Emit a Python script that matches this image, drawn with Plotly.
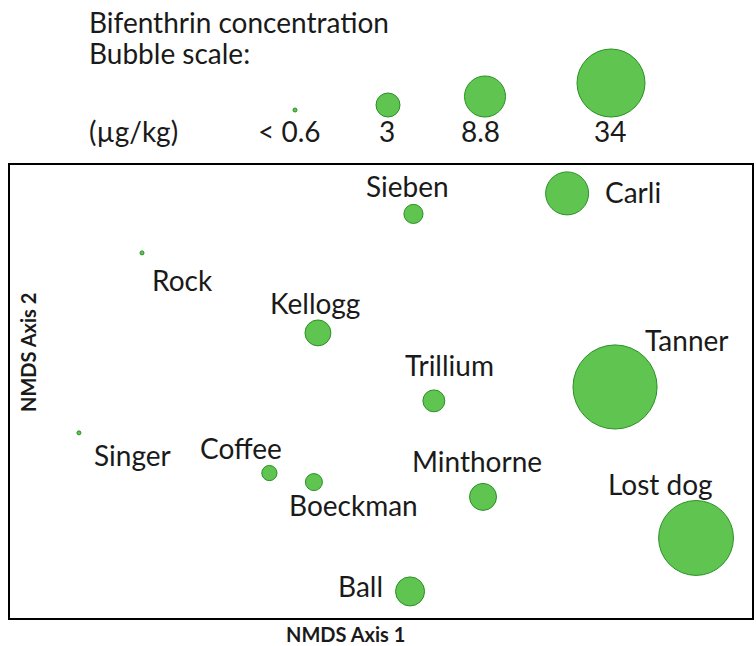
import numpy as np
import plotly.graph_objects as go

# ---------------- data ----------------
sites = ["Sieben", "Carli", "Rock", "Kellogg", "Tanner", "Trillium", "Singer",
         "Coffee", "Boeckman", "Minthorne", "Lost dog", "Ball"]
nmds_axis1 = [0.105, 0.602, -0.773, -0.204, 0.757, 0.171, -0.977,
              -0.361, -0.217, 0.330, 1.019, 0.094]
nmds_axis2 = [0.588, 0.656, 0.459, 0.194, 0.015, -0.031, -0.137,
              -0.270, -0.300, -0.349, -0.485, -0.662]
# bifenthrin concentration, µg/kg (nan = below detection, < 0.6)
bifenthrin = [1.9, 10.0, np.nan, 3.5, 60.0, 2.5, np.nan,
              1.2, 1.5, 3.8, 44.0, 4.4]

scale_values = [0.6, 3, 8.8, 34]
scale_labels = ["< 0.6", "3", "8.8", "34"]

# ---------------- bubble size scale ----------------
REF_V = np.log(np.array([3.0, 8.8, 34.0]))
REF_D = np.log(np.array([24.0, 41.0, 68.0]))
ND_D = 4.0


def diam(v):
    if v is None or np.isnan(v) or v <= 0.6:
        return ND_D
    x = np.log(v)
    i = 0 if x <= REF_V[1] else 1
    slope = (REF_D[i + 1] - REF_D[i]) / (REF_V[i + 1] - REF_V[i])
    return float(np.exp(REF_D[i] + slope * (x - REF_V[i])))


FILL = "rgb(96,196,80)"
EDGE = "rgb(40,145,36)"
FONT = "Lato"
TXT = "#1a1a1a"
LSIZE = 28

W, H = 756, 646
ML, MR, MT, MB = 10, 4, 0, 28
PH = H - MT - MB           # plot-area height (px)
BOX_TOP = 165              # px of main box top

fig = go.Figure()

# main bubbles
fig.add_trace(go.Scatter(
    x=nmds_axis1, y=nmds_axis2, mode="markers",
    marker=dict(size=[diam(v) for v in bifenthrin], sizemode="diameter",
                color=FILL, line=dict(color=EDGE, width=1), opacity=1),
    xaxis="x", yaxis="y", hoverinfo="text", text=sites, showlegend=False))

# legend bubbles (scale key)
key_x = [295, 388, 485, 611]
key_d = [diam(v) for v in scale_values]
key_y = [110 if v <= 0.6 else 117 - d / 2 for v, d in zip(scale_values, key_d)]
fig.add_trace(go.Scatter(
    x=key_x, y=key_y, mode="markers",
    marker=dict(size=key_d, sizemode="diameter", color=FILL, opacity=1,
                line=dict(color=EDGE, width=1)),
    xaxis="x2", yaxis="y2", hoverinfo="skip", showlegend=False))

# site labels (pixel offsets from each bubble)
label_offsets = {
    "Sieben": (-6, -28), "Carli": (66, -1), "Rock": (40, 27),
    "Kellogg": (-3, -30), "Tanner": (71, -47), "Trillium": (16, -36),
    "Singer": (54, 22), "Coffee": (-28, -25), "Boeckman": (40, 23),
    "Minthorne": (-6, -36), "Lost dog": (-36, -54), "Ball": (-50, -5),
}
for s, xv, yv in zip(sites, nmds_axis1, nmds_axis2):
    dx, dy = label_offsets[s]
    fig.add_annotation(x=xv, y=yv, xref="x", yref="y", text=s, showarrow=False,
                       xshift=dx, yshift=-dy, xanchor="center", yanchor="middle",
                       font=dict(family=FONT, size=LSIZE, color=TXT))

# legend texts (in y2 = pixel units)
fig.add_annotation(x=87, y=22, xref="x2", yref="y2", text="Bifenthrin concentration",
                   showarrow=False, xanchor="left", yanchor="middle",
                   font=dict(family=FONT, size=LSIZE, color=TXT))
fig.add_annotation(x=87, y=53, xref="x2", yref="y2", text="Bubble scale:",
                   showarrow=False, xanchor="left", yanchor="middle",
                   font=dict(family=FONT, size=LSIZE, color=TXT))
fig.add_annotation(x=87, y=131, xref="x2", yref="y2", text="(µg/kg)",
                   showarrow=False, xanchor="left", yanchor="middle",
                   font=dict(family=FONT, size=LSIZE, color=TXT))
for lab, xc in zip(scale_labels, [289, 387, 480, 610]):
    fig.add_annotation(x=xc, y=131, xref="x2", yref="y2", text=lab,
                       showarrow=False, xanchor="center", yanchor="middle",
                       font=dict(family=FONT, size=LSIZE, color=TXT))


def px2paper(px, py):
    return (px - ML) / (W - ML - MR), (H - MB - py) / PH


ax1x, ax1y = px2paper(345, 634)
fig.add_annotation(x=ax1x, y=ax1y, xref="paper", yref="paper", text="<b>NMDS Axis 1</b>",
                   showarrow=False, xanchor="center", yanchor="middle",
                   font=dict(family=FONT, size=20, color=TXT))
ax2x, ax2y = px2paper(28, 353)
fig.add_annotation(x=ax2x, y=ax2y, xref="paper", yref="paper", text="<b>NMDS Axis 2</b>",
                   showarrow=False, xanchor="center", yanchor="middle", textangle=-90,
                   font=dict(family=FONT, size=20, color=TXT))

axis_common = dict(showline=True, linewidth=2, linecolor="black", mirror=True,
                   showticklabels=False, ticks="", showgrid=False, zeroline=False,
                   fixedrange=True)
main_top = (H - MB - BOX_TOP) / PH
fig.update_layout(
    width=W, height=H,
    margin=dict(l=ML, r=MR, t=MT, b=MB),
    paper_bgcolor="white", plot_bgcolor="white",
    xaxis=dict(domain=[0, 1], range=[-1.2, 1.2], anchor="y", **axis_common),
    yaxis=dict(domain=[0, main_top], range=[-0.75, 0.75], anchor="x", **axis_common),
    xaxis2=dict(domain=[0, 1], range=[ML, W - MR], anchor="y2", visible=False),
    yaxis2=dict(domain=[0.74, 1], range=[PH * 0.26, 0], anchor="x2", visible=False),
    showlegend=False,
)

fig.write_html("out.html", config={"displayModeBar": False},
               post_script="document.body.style.margin='0';document.body.style.overflow='hidden';")
